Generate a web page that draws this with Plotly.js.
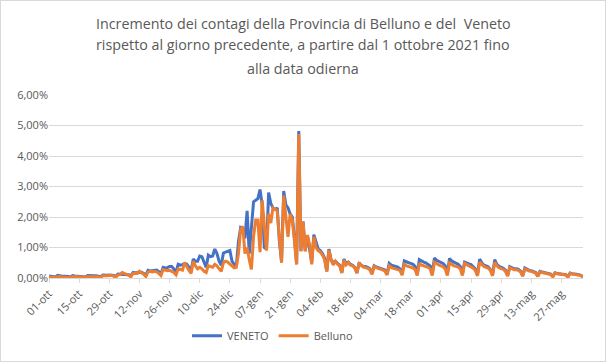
<!DOCTYPE html>
<html>
<head>
<meta charset="utf-8">
<script src="https://cdn.plot.ly/plotly-3.0.1.min.js"></script>
<style>
  html, body { margin: 0; padding: 0; background: #fff; }
  #chart { width: 604px; height: 360px; border: 1px solid #d9d9d9; }
</style>
</head>
<body>
<div id="chart"></div>
<script>
// Daily dates: from 2021-10-01 to 2022-06-06 (one value per day)
const startDate = '2021-10-01';
const endDate = '2022-06-06';

// Title lines
const titleLines = [
  'Incremento dei contagi della Provincia di Belluno e del  Veneto',
  'rispetto al giorno precedente, a partire dal 1 ottobre 2021 fino',
  'alla data odierna'
];

// Daily increment (%) - VENETO (weeks starting on Friday)
const veneto = [
  0.07, 0.06, 0.05, 0.03, 0.09, 0.07, 0.06,
  0.06, 0.06, 0.05, 0.03, 0.08, 0.07, 0.06,
  0.06, 0.06, 0.05, 0.03, 0.08, 0.07, 0.07,
  0.07, 0.07, 0.06, 0.04, 0.10, 0.09, 0.09,
  0.10, 0.10, 0.08, 0.05, 0.13, 0.12, 0.12,
  0.13, 0.13, 0.11, 0.07, 0.18, 0.17, 0.17,
  0.19, 0.19, 0.15, 0.10, 0.25, 0.23, 0.24,
  0.26, 0.26, 0.21, 0.14, 0.35, 0.33, 0.34,
  0.38, 0.38, 0.30, 0.20, 0.45, 0.42, 0.44,
  0.48, 0.45, 0.36, 0.25, 0.62, 0.55, 0.55,
  0.72, 0.70, 0.52, 0.35, 0.75, 0.70, 0.72,
  0.95, 0.80, 0.55, 0.42, 0.82, 0.85, 0.88,
  0.90, 0.55, 0.45, 0.40, 1.20, 1.65, 1.60,
  1.30, 2.20, 0.80, 1.60, 2.50, 2.55, 2.60,
  2.90, 2.40, 1.00, 0.95, 2.80, 2.45, 2.30,
  2.25, 2.30, 1.20, 0.55, 2.85, 2.40, 2.30,
  2.10, 2.00, 1.30, 0.45, 4.82, 0.90, 1.85,
  0.90, 1.40, 0.95, 0.50, 1.42, 1.15, 0.95,
  0.90, 0.80, 0.65, 0.22, 0.95, 0.60, 0.50,
  0.55, 0.48, 0.42, 0.18, 0.62, 0.48, 0.52,
  0.45, 0.42, 0.35, 0.17, 0.50, 0.42, 0.38,
  0.38, 0.35, 0.30, 0.14, 0.40, 0.36, 0.34,
  0.32, 0.30, 0.26, 0.12, 0.48, 0.42, 0.40,
  0.38, 0.36, 0.30, 0.12, 0.56, 0.52, 0.50,
  0.48, 0.45, 0.38, 0.13, 0.60, 0.55, 0.52,
  0.50, 0.46, 0.40, 0.13, 0.66, 0.58, 0.55,
  0.52, 0.48, 0.40, 0.12, 0.64, 0.56, 0.52,
  0.48, 0.45, 0.38, 0.12, 0.52, 0.48, 0.46,
  0.44, 0.38, 0.30, 0.10, 0.62, 0.50, 0.42,
  0.40, 0.36, 0.28, 0.10, 0.60, 0.45, 0.38,
  0.36, 0.32, 0.26, 0.08, 0.37, 0.33, 0.30,
  0.30, 0.28, 0.22, 0.07, 0.33, 0.28, 0.25,
  0.24, 0.22, 0.18, 0.06, 0.22, 0.20, 0.18,
  0.17, 0.16, 0.13, 0.05, 0.17, 0.15, 0.14,
  0.14, 0.13, 0.11, 0.04, 0.16, 0.14, 0.12,
  0.12, 0.11, 0.09, 0.04
];

// Daily increment (%) - Belluno
const belluno = [
  0.04, 0.03, 0.03, 0.01, 0.05, 0.04, 0.03,
  0.03, 0.03, 0.02, 0.01, 0.05, 0.04, 0.03,
  0.04, 0.03, 0.03, 0.01, 0.05, 0.04, 0.04,
  0.04, 0.05, 0.04, 0.02, 0.07, 0.06, 0.07,
  0.08, 0.09, 0.06, 0.02, 0.10, 0.12, 0.18,
  0.16, 0.12, 0.09, 0.04, 0.15, 0.14, 0.15,
  0.22, 0.18, 0.12, 0.05, 0.20, 0.22, 0.20,
  0.22, 0.20, 0.15, 0.08, 0.28, 0.25, 0.24,
  0.25, 0.22, 0.18, 0.10, 0.30, 0.28, 0.26,
  0.50, 0.35, 0.25, 0.15, 0.55, 0.40, 0.30,
  0.35, 0.30, 0.22, 0.18, 0.40, 0.38, 0.35,
  0.45, 0.40, 0.30, 0.22, 0.50, 0.55, 0.52,
  0.45, 0.38, 0.33, 0.35, 0.80, 1.60, 1.69,
  0.80, 1.00, 0.60, 0.28, 1.36, 1.90, 1.90,
  0.85, 2.55, 1.60, 0.90, 2.10, 1.80, 2.30,
  2.25, 2.20, 1.30, 0.50, 2.70, 2.00, 1.35,
  2.10, 1.90, 1.20, 0.45, 4.72, 0.87, 1.85,
  0.87, 1.41, 1.10, 0.45, 1.35, 1.00, 0.90,
  0.85, 0.75, 0.60, 0.21, 0.92, 0.59, 0.43,
  0.55, 0.45, 0.40, 0.16, 0.59, 0.43, 0.50,
  0.42, 0.40, 0.33, 0.16, 0.47, 0.40, 0.36,
  0.34, 0.32, 0.27, 0.12, 0.38, 0.33, 0.31,
  0.29, 0.27, 0.23, 0.10, 0.40, 0.34, 0.32,
  0.31, 0.29, 0.25, 0.09, 0.45, 0.40, 0.38,
  0.36, 0.33, 0.28, 0.08, 0.48, 0.42, 0.40,
  0.38, 0.35, 0.30, 0.08, 0.52, 0.46, 0.43,
  0.40, 0.37, 0.30, 0.08, 0.50, 0.44, 0.40,
  0.38, 0.36, 0.30, 0.08, 0.48, 0.44, 0.42,
  0.38, 0.32, 0.25, 0.07, 0.52, 0.44, 0.38,
  0.35, 0.32, 0.25, 0.07, 0.52, 0.40, 0.34,
  0.32, 0.28, 0.22, 0.06, 0.34, 0.30, 0.27,
  0.27, 0.25, 0.20, 0.06, 0.30, 0.26, 0.23,
  0.22, 0.20, 0.16, 0.05, 0.20, 0.18, 0.16,
  0.15, 0.14, 0.11, 0.04, 0.16, 0.14, 0.13,
  0.13, 0.12, 0.10, 0.03, 0.15, 0.13, 0.11,
  0.11, 0.10, 0.08, 0.03
];

// X tick positions and labels
const tickDates = ['2021-10-01','2021-10-15','2021-10-29','2021-11-12','2021-11-26','2021-12-10','2021-12-24',
  '2022-01-07','2022-01-21','2022-02-04','2022-02-18','2022-03-04','2022-03-18','2022-04-01','2022-04-15',
  '2022-04-29','2022-05-13','2022-05-27'];
const tickLabels = ['01-ott','15-ott','29-ott','12-nov','26-nov','10-dic','24-dic','07-gen','21-gen','04-feb',
  '18-feb','04-mar','18-mar','01-apr','15-apr','29-apr','13-mag','27-mag'];

// Y ticks
const yTickVals = [0, 1, 2, 3, 4, 5, 6];
const yTickLabels = ['0,00%','1,00%','2,00%','3,00%','4,00%','5,00%','6,00%'];

// build consecutive day categories
const dates = [];
{
  const d = new Date(startDate + 'T00:00:00Z');
  for (let i = 0; i < veneto.length; i++) {
    dates.push(d.toISOString().slice(0, 10));
    d.setUTCDate(d.getUTCDate() + 1);
  }
}

const font = 'Open Sans, Noto Sans, sans-serif';
const grey = '#595959';

const traces = [
  { x: dates, y: veneto, name: 'VENETO', type: 'scatter', mode: 'lines',
    line: { color: '#4472C4', width: 3 } },
  { x: dates, y: belluno, name: 'Belluno', type: 'scatter', mode: 'lines',
    line: { color: '#ED7D31', width: 3 } }
];

// title lines as centred texts (plot area spans 183 px vertically, top at 94 px)
const titleYpx = [22, 44, 67];
const annotations = titleLines.map((t, i) => ({
  text: t, showarrow: false,
  xref: 'paper', yref: 'paper',
  x: (302 - 48) / 534, xanchor: 'center',
  y: (277 - titleYpx[i]) / 183, yanchor: 'middle',
  font: { family: font, size: 14.3, color: grey }
}));

const layout = {
  width: 604, height: 360,
  margin: { l: 48, r: 22, t: 94, b: 83 },
  paper_bgcolor: '#ffffff', plot_bgcolor: '#ffffff',
  font: { family: font, color: grey, size: 11 },
  annotations: annotations,
  xaxis: {
    type: 'date',
    range: [startDate, endDate],
    tickmode: 'array', tickvals: tickDates, ticktext: tickLabels,
    tickangle: -45, ticks: 'outside', ticklen: 4, tickcolor: '#d9d9d9',
    showgrid: false, showline: true, linecolor: '#d9d9d9', linewidth: 1,
    tickfont: { family: font, size: 11, color: grey },
    zeroline: false, fixedrange: true
  },
  yaxis: {
    range: [0, 6],
    tickmode: 'array', tickvals: yTickVals, ticktext: yTickLabels,
    showgrid: true, gridcolor: '#d9d9d9', gridwidth: 1,
    zeroline: false, showline: false, ticks: '',
    tickfont: { family: font, size: 11, color: grey },
    fixedrange: true
  },
  showlegend: true,
  legend: {
    orientation: 'h', x: (272 - 48) / 534, xanchor: 'center',
    yref: 'container', y: 0.07, yanchor: 'middle',
    itemwidth: 30,
    font: { family: font, size: 11, color: grey }
  }
};

Plotly.newPlot('chart', traces, layout, { displayModeBar: false, staticPlot: true });
</script>
</body>
</html>
